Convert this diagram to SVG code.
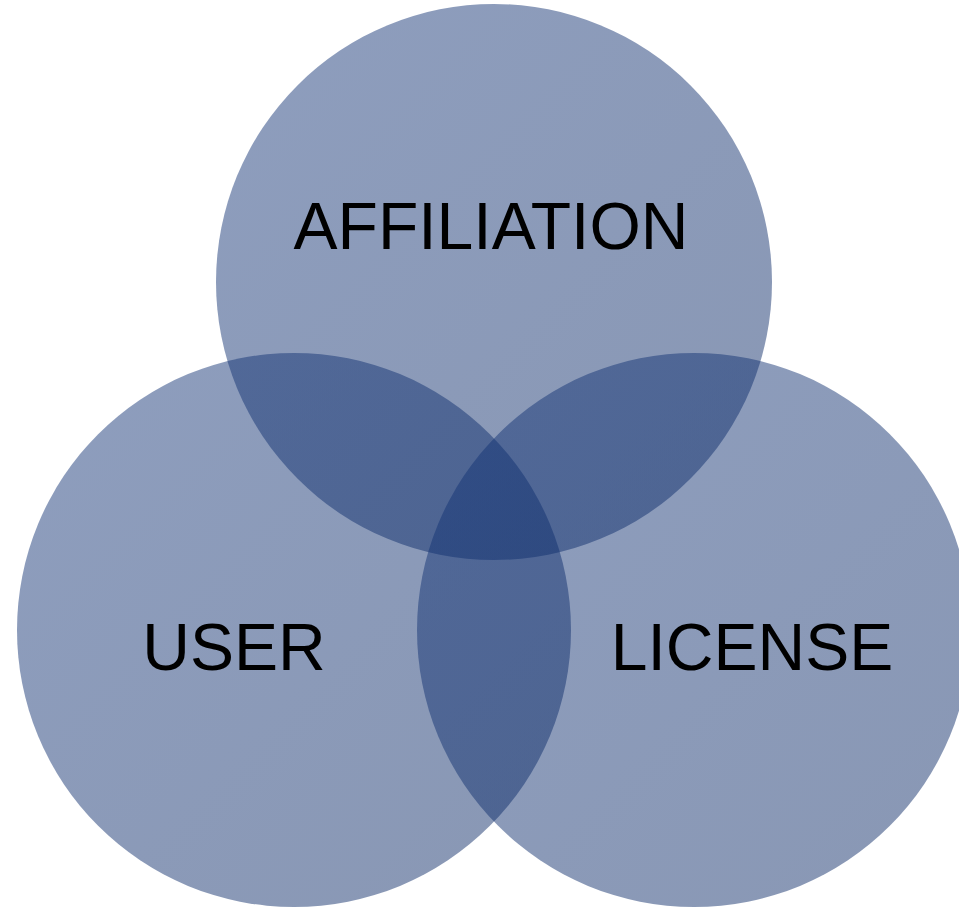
<svg xmlns="http://www.w3.org/2000/svg" width="959" height="907" viewBox="0 0 959 907">
  <defs>
    <linearGradient id="g" x1="0" y1="0" x2="1" y2="1">
      <stop offset="0" stop-color="rgb(18,51,118)"/>
      <stop offset="1" stop-color="rgb(8,38,98)"/>
    </linearGradient>
  </defs>
  <style>
    .c { fill: url(#g); fill-opacity: 0.48; }
    .t { font-family: "Liberation Sans", Arial, sans-serif; font-size: 66px; fill: #000; text-anchor: middle; }
  </style>
  <rect width="959" height="907" fill="#ffffff"/>
  <g id="affiliation">
    <circle class="c" cx="494" cy="282" r="278"/>
  </g>
  <g id="user">
    <circle class="c" cx="294" cy="630" r="277"/>
  </g>
  <g id="license">
    <circle class="c" cx="694" cy="630" r="277"/>
  </g>
  <g id="connectors"/>
  <g id="labels">
    <text class="t" x="491" y="249">AFFILIATION</text>
    <text class="t" x="234" y="670">USER</text>
    <text class="t" x="752" y="670">LICENSE</text>
  </g>
</svg>
